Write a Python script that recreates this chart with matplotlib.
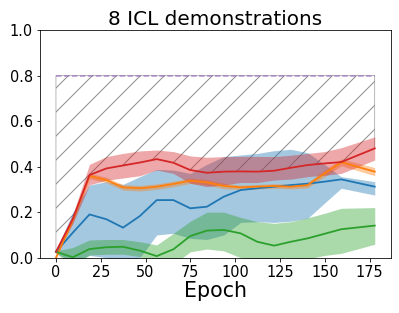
import numpy as np
import matplotlib
matplotlib.use("Agg")
import matplotlib.pyplot as plt

epochs = [0, 9.4, 18.7, 28.1, 37.4, 46.8, 56.2, 65.5, 74.9, 84.2, 93.6, 103.0,
          112.3, 121.7, 131.0, 140.4, 149.8, 159.1, 177.8]
upper_bound = 0.8

blue_mean = [0.026, 0.11, 0.19, 0.169, 0.132, 0.183, 0.253, 0.253, 0.217, 0.224, 0.268,
             0.297, 0.305, 0.312, 0.319, 0.325, 0.334, 0.344, 0.312]
blue_hi = [0.03, 0.2, 0.319, 0.334, 0.322, 0.356, 0.388, 0.385, 0.37, 0.41, 0.444,
           0.451, 0.458, 0.47, 0.476, 0.461, 0.41, 0.356, 0.334]
blue_lo = [0.02, -0.02, 0.01, 0.0, -0.02, 0.0, 0.1, 0.107, 0.085, 0.08, 0.1,
           0.155, 0.158, 0.155, 0.16, 0.173, 0.24, 0.305, 0.275]

orange_mean = [0.0, 0.165, 0.359, 0.341, 0.309, 0.305, 0.312, 0.324, 0.338, 0.331, 0.315,
               0.309, 0.312, 0.315, 0.312, 0.319, 0.37, 0.419, 0.378]
orange_hi = [0.005, 0.175, 0.371, 0.353, 0.321, 0.317, 0.324, 0.336, 0.35, 0.343, 0.327,
             0.319, 0.322, 0.325, 0.322, 0.331, 0.385, 0.434, 0.396]
orange_lo = [-0.005, 0.155, 0.347, 0.329, 0.297, 0.293, 0.3, 0.312, 0.326, 0.319, 0.303,
             0.299, 0.302, 0.305, 0.302, 0.307, 0.355, 0.404, 0.36]

green_mean = [0.026, 0.002, 0.038, 0.046, 0.048, 0.031, 0.007, 0.037, 0.095, 0.119, 0.122,
              0.107, 0.07, 0.053, 0.07, 0.085, 0.105, 0.125, 0.141]
green_hi = [0.03, 0.045, 0.078, 0.08, 0.08, 0.07, 0.056, 0.107, 0.16, 0.2, 0.2,
            0.177, 0.158, 0.151, 0.158, 0.175, 0.195, 0.217, 0.22]
green_lo = [0.02, -0.04, 0.012, 0.015, 0.015, 0.005, -0.04, -0.03, 0.026, 0.038, 0.03,
            0.0, -0.02, -0.04, -0.02, -0.005, 0.01, 0.019, 0.059]

red_mean = [0.026, 0.17, 0.363, 0.392, 0.405, 0.418, 0.433, 0.417, 0.385, 0.373, 0.378,
            0.379, 0.378, 0.382, 0.395, 0.407, 0.414, 0.42, 0.48]
red_hi = [0.035, 0.19, 0.41, 0.444, 0.458, 0.469, 0.473, 0.466, 0.447, 0.441, 0.444,
          0.445, 0.445, 0.444, 0.45, 0.458, 0.466, 0.483, 0.531]
red_lo = [0.017, 0.15, 0.32, 0.34, 0.35, 0.36, 0.385, 0.37, 0.327, 0.312, 0.32,
          0.33, 0.33, 0.341, 0.345, 0.356, 0.362, 0.37, 0.429]

x_ticks = [0, 25, 50, 75, 100, 125, 150, 175]
y_ticks = [0.0, 0.2, 0.4, 0.6, 0.8, 1.0]

fig = plt.figure(figsize=(399 / 72, 313 / 72), dpi=72)
ax = fig.add_axes([40 / 399, 1 - 257.7 / 313, 350.7 / 399, 227.7 / 313])

ax.fill_between(epochs, red_mean, upper_bound, hatch='/', facecolor='none',
                edgecolor='gray', linewidth=0.6, alpha=0.9)
ax.plot([epochs[0], epochs[-1]], [upper_bound, upper_bound], color='tab:purple',
        linestyle='--', linewidth=1.5, alpha=0.7)

series = [
    (blue_mean, blue_lo, blue_hi, 'tab:blue'),
    (orange_mean, orange_lo, orange_hi, 'tab:orange'),
    (green_mean, green_lo, green_hi, 'tab:green'),
    (red_mean, red_lo, red_hi, 'tab:red'),
]
for mean, lo, hi, c in series:
    ax.fill_between(epochs, lo, hi, color=c, alpha=0.4, linewidth=0)
    ax.plot(epochs, mean, color=c, linewidth=1.8)

ax.set_ylim(0, 1.0)
ax.set_xlim(-8.9, 186.7)
ax.set_xticks(x_ticks)
ax.set_yticks(y_ticks)
ax.tick_params(labelsize=14.5)
ax.set_xlabel("Epoch", fontsize=20.5, labelpad=1)
ax.set_title("8 ICL demonstrations", fontsize=20, pad=5)

fig.savefig("out.png", dpi=72)
